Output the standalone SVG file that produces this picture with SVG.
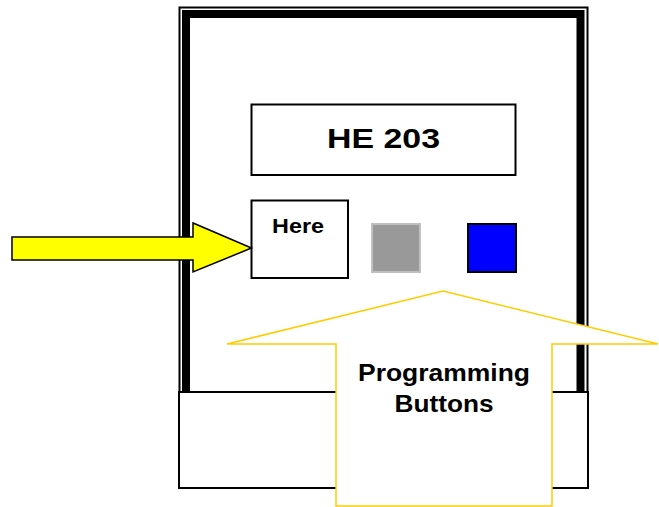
<svg xmlns="http://www.w3.org/2000/svg" width="659" height="507" viewBox="0 0 659 507">
<style>
.lbl{font-family:"Liberation Sans",Arial,sans-serif;font-weight:bold;fill:#000;text-anchor:middle}
</style>
<rect width="659" height="507" fill="#fff"/>
<g id="frame">
<rect x="179.5" y="7.5" width="408" height="400" fill="#fff" stroke="#000" stroke-width="2"/>
<rect x="186" y="14" width="394.5" height="390" fill="none" stroke="#000" stroke-width="8"/>
</g>
<g id="base">
<rect x="179" y="392" width="409" height="96" fill="#fff" stroke="#000" stroke-width="2"/>
</g>
<g id="display">
<rect x="251.5" y="104.5" width="264" height="70.5" fill="#fff" stroke="#000" stroke-width="2"/>
<text class="lbl" x="383.5" y="148" font-size="27" textLength="113" lengthAdjust="spacingAndGlyphs">HE 203</text>
</g>
<g id="here">
<rect x="251.5" y="200.5" width="96.5" height="77.5" fill="#fff" stroke="#000" stroke-width="2"/>
<text class="lbl" x="298" y="233" font-size="20" textLength="52" lengthAdjust="spacingAndGlyphs">Here</text>
</g>
<g id="gray-button">
<rect x="372" y="224" width="48" height="48" fill="#999999" stroke="#c0c0c0" stroke-width="2"/>
</g>
<g id="blue-button">
<rect x="468" y="224" width="48" height="48" fill="#0000ff" stroke="#000" stroke-width="2"/>
</g>
<g id="connectors">
<polygon points="12,237 193,237 193,223 251.5,248 193,272 193,260 12,260" fill="#ffff00" stroke="#000" stroke-width="1.5"/>
</g>
<g id="prog-arrow">
<polygon points="443,291 658,344 552,344 552,506 336,506 336,344 227,344" fill="#fff" stroke="#ffcc00" stroke-width="1.5"/>
<text class="lbl" x="444" y="381" font-size="24" textLength="172" lengthAdjust="spacingAndGlyphs">Programming</text>
<text class="lbl" x="444" y="412" font-size="24" textLength="99" lengthAdjust="spacingAndGlyphs">Buttons</text>
</g>
</svg>
